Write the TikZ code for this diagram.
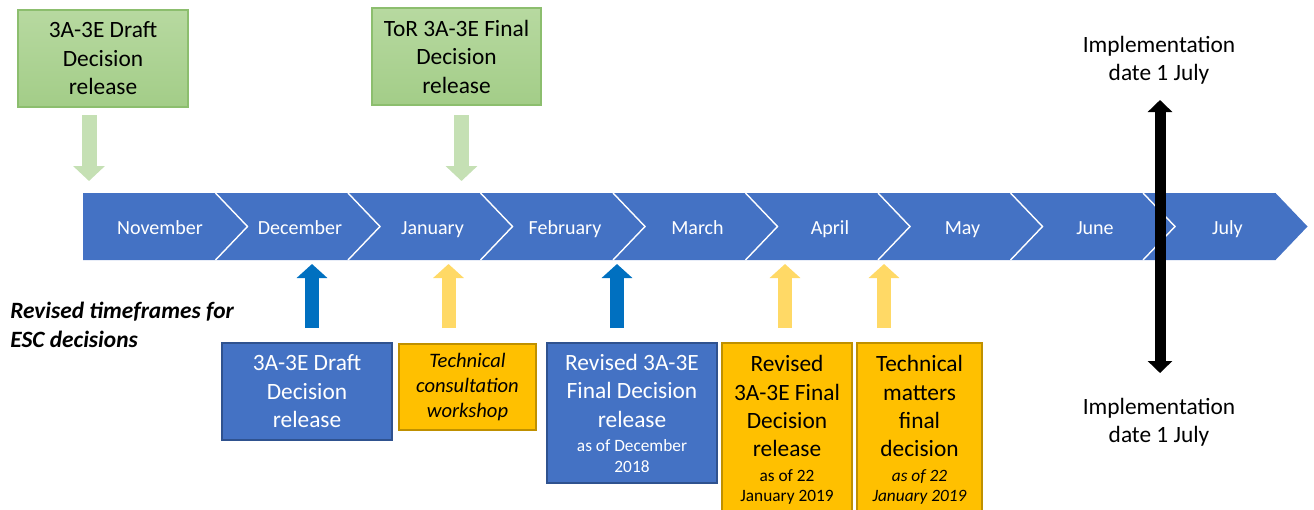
\documentclass[tikz,border=0pt]{standalone}
\usepackage{fontspec}
\setmainfont{Carlito}
\usetikzlibrary{arrows.meta}

\definecolor{barblue}{RGB}{68,114,196}
\definecolor{blueedge}{RGB}{47,82,143}
\definecolor{arrowblue}{RGB}{0,112,192}
\definecolor{gold}{RGB}{255,192,0}
\definecolor{goldedge}{RGB}{191,144,0}
\definecolor{paleyellow}{RGB}{255,217,102}
\definecolor{greentop}{RGB}{183,217,160}
\definecolor{greenbot}{RGB}{163,205,136}
\definecolor{greenedge}{RGB}{140,190,110}
\definecolor{palegreen}{RGB}{197,224,180}

\newcommand{\smalltext}{\fontsize{9.85}{12.1}\selectfont}

\tikzset{
	bigtext/.style={font=\fontsize{13.3}{16.2}\selectfont},
	month/.style={text=white, font=\fontsize{11.4}{13.7}\selectfont, text height=1.6ex, text depth=0.45ex},
	box/.style={bigtext, align=center, inner sep=0pt, line width=0.6pt},
	greenbox/.style={box, draw=greenedge, top color=greentop, bottom color=greenbot, minimum width=3.4cm, minimum height=1.94cm},
	bluebox/.style={box, draw=blueedge, fill=barblue, text=white, minimum width=3.4cm},
	goldbox/.style={box, draw=goldedge, fill=gold},
	downarrow/.style={palegreen, line width=0.3cm, -{Triangle[width=0.62cm,length=0.3cm]}},
	uparrow/.style={line width=0.28cm, -{Triangle[width=0.6cm,length=0.28cm]}},
	datearrow/.style={black, line width=0.22cm, {Triangle[width=0.48cm,length=0.24cm]}-{Triangle[width=0.48cm,length=0.24cm]}}
}

\begin{document}
\begin{tikzpicture}
	\useasboundingbox (0,0) rectangle (26.28,-10.18);
	
	% timeline of months
	\fill[barblue] (1.66,-3.86) -- (25.51,-3.86) -- (26.15,-4.53) -- (25.51,-5.20) -- (1.66,-5.20) -- cycle;
	\foreach \i in {0,...,7}
		\draw[white, line width=0.8pt] ({4.31+2.65*\i},-3.86) -- ++(0.64,-0.67) -- ++(-0.64,-0.67);
	\foreach \x/\m in {3.2/November, 6.0/December, 8.65/January, 11.3/February, 13.95/March, 16.6/April, 19.25/May, 21.9/June, 24.55/July}
		\node[month] (\m) at (\x,-4.59) {\m};
	
	% original dates, above
	\node[greenbox] (draft) at (2.06,-1.17) {3A-3E Draft\\Decision\\release};
	\node[greenbox, minimum width=3.38cm] (tor) at (9.13,-1.13) {ToR 3A-3E Final\\Decision\\release};
	\coordinate (gs1) at (1.78,-2.30);
	\coordinate (ge1) at (1.78,-3.62);
	\coordinate (gs2) at (9.23,-2.30);
	\coordinate (ge2) at (9.23,-3.62);
	\draw[downarrow] (gs1) -- (ge1);
	\draw[downarrow] (gs2) -- (ge2);
	
	% revised dates, below
	\node[bigtext, font={\fontsize{13.3}{16.2}\selectfont\bfseries\itshape}, align=left, anchor=west, inner sep=0pt] (note) at (0.2,-6.5) {Revised timeframes for\\ESC decisions};
	\node[bluebox, minimum height=1.94cm] (draftrel) at (6.14,-7.83) {3A-3E Draft\\Decision\\release};
	\node[goldbox, minimum width=2.74cm, minimum height=1.72cm, font={\fontsize{11.7}{14.2}\selectfont\itshape}] (workshop) at (9.35,-7.74) {Technical\\consultation\\workshop};
	\node[bluebox, minimum height=2.8cm] (finalrel) at (12.64,-8.26) {Revised 3A-3E\\Final Decision\\release\\[-2.2pt]{\smalltext as of December}\\[-4.6pt]{\smalltext 2018}};
	\node[goldbox, minimum width=2.6cm, minimum height=3.48cm] (revfinal) at (15.74,-8.6) {Revised\\3A-3E Final\\Decision\\release\\[-2.2pt]{\smalltext as of 22}\\[-4.6pt]{\smalltext January 2019}};
	\node[goldbox, minimum width=2.5cm, minimum height=3.48cm] (techfinal) at (18.39,-8.6) {Technical\\matters\\final\\decision\\[-2.2pt]{\smalltext\itshape as of 22}\\[-4.6pt]{\smalltext\itshape January 2019}};
	\foreach \x/\c [count=\k] in {6.24/arrowblue, 8.97/paleyellow, 12.34/arrowblue, 15.7/paleyellow, 17.68/paleyellow}{
		\coordinate (up\k) at (\x,-6.56);
		\coordinate (mk\k) at (\x,-5.28);
		\draw[uparrow, \c] (up\k) -- (mk\k);
	}
	
	% implementation date
	\node[bigtext, align=center] (impltop) at (23.18,-1.21) {Implementation\\date 1 July};
	\node[bigtext, align=center] (implbot) at (23.18,-8.45) {Implementation\\date 1 July};
	\coordinate (jtop) at (23.2,-2.0);
	\coordinate (jbot) at (23.2,-7.46);
	\draw[datearrow] (jbot) -- (jtop);
\end{tikzpicture}
\end{document}
